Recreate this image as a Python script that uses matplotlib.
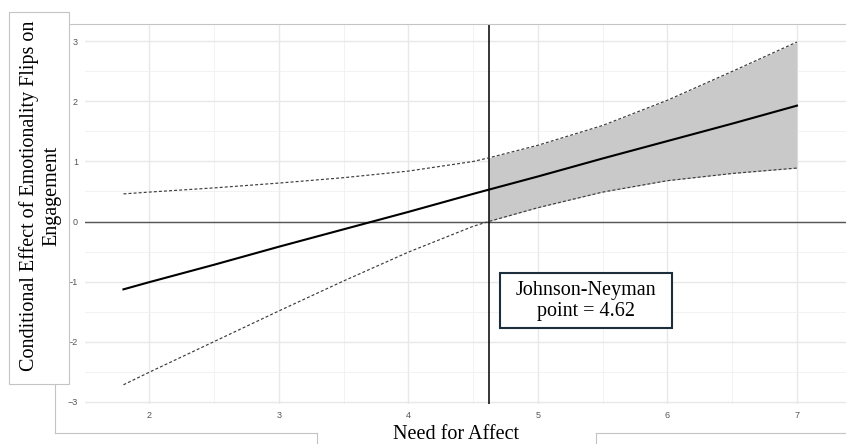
import numpy as np
import matplotlib
matplotlib.use("Agg")
import matplotlib.pyplot as plt
from matplotlib.lines import Line2D
from matplotlib.patches import Rectangle

# values
need_x = [1.8, 2.0, 2.5, 3.0, 3.5, 4.0, 4.5, 4.62, 5.0, 5.5, 6.0, 6.5, 7.0]
effect = [-1.13, -1.01, -0.72, -0.42, -0.13, 0.16, 0.46, 0.53, 0.75, 1.05, 1.34, 1.63, 1.93]
upper = [0.46, 0.49, 0.56, 0.64, 0.73, 0.84, 1.00, 1.06, 1.27, 1.60, 2.02, 2.50, 2.99]
lower = [-2.72, -2.51, -2.00, -1.49, -0.99, -0.51, -0.08, 0.00, 0.23, 0.49, 0.68, 0.80, 0.89]
jn_point = 4.62
x_ticks = [2, 3, 4, 5, 6, 7]
y_ticks = [-3, -2, -1, 0, 1, 2, 3]

W, H = 846, 444


def fx(px):
    return px / W


def fy(py):
    return 1 - py / H


fig = plt.figure(figsize=(W / 100, H / 100), dpi=100)
fig.patch.set_facecolor("white")

# panel placed in pixel terms
left, right, top, bottom = 85, 846, 24, 404
ax = fig.add_axes([fx(left), fy(bottom), fx(right - left), fy(top) - fy(bottom)])
ax.set_xlim(1.503, 7.379)
ax.set_ylim(-3.04, 3.29)
for s in ax.spines.values():
    s.set_visible(False)

ax.set_xticks(x_ticks)
ax.set_yticks(y_ticks)
ax.set_xticks(np.arange(2.5, 7, 1.0), minor=True)
ax.set_yticks(np.arange(-2.5, 3, 1.0), minor=True)
ax.grid(which="major", color="#e8e8e8", lw=1.0)
ax.grid(which="minor", color="#f0f0f0", lw=0.6)
ax.set_axisbelow(True)
ax.tick_params(which="both", length=0)
ax.tick_params(axis="x", pad=5, labelsize=6.5, labelcolor="#555555")
ax.tick_params(axis="y", pad=5, labelsize=6.5, labelcolor="#555555")
for lab in ax.get_xticklabels() + ax.get_yticklabels():
    lab.set_family("Liberation Sans")

nx = np.array(need_x)
sig = nx >= jn_point
ax.fill_between(nx[sig], np.array(lower)[sig], np.array(upper)[sig],
                color="#c9c9c9", lw=0, zorder=2)
ax.axhline(0, color="#555555", lw=1.0, zorder=3)
ax.axvline(jn_point, color="black", lw=1.1, zorder=3)
ax.plot(need_x, upper, color="#3c3c3c", lw=0.85, ls=(0, (2.5, 1.8)), zorder=4)
ax.plot(need_x, lower, color="#3c3c3c", lw=0.85, ls=(0, (2.5, 1.8)), zorder=4)
ax.plot(need_x, effect, color="black", lw=1.5, zorder=5)

# Johnson-Neyman annotation box
fig.patches.append(Rectangle((fx(500), fy(328)), fx(172), fy(273) - fy(328),
                             transform=fig.transFigure, facecolor="white",
                             edgecolor="#1c2e3c", lw=1.5, zorder=6))
fig.text(fx(586), fy(301), "Johnson-Neyman\npoint = 4.62", ha="center", va="center",
         family="Liberation Serif", fontsize=14.5, linespacing=1.2, zorder=7)

# frame pieces and label boxes
frame = "#c4c4c4"
segs = [
    [(69, 24), (846, 24)],
    [(55, 384), (55, 432.5)],
    [(55, 432.5), (317, 432.5)],
    [(317, 432.5), (317, 444)],
    [(596, 432.5), (596, 444)],
    [(596, 432.5), (846, 432.5)],
]
for (x0, y0), (x1, y1) in segs:
    fig.lines.append(Line2D([fx(x0), fx(x1)], [fy(y0), fy(y1)], transform=fig.transFigure,
                            color=frame, lw=0.8))

fig.patches.append(Rectangle((fx(9), fy(384)), fx(60), fy(12) - fy(384),
                             transform=fig.transFigure, facecolor="white",
                             edgecolor=frame, lw=0.8, zorder=6))
fig.text(fx(40), fy(196), "Conditional Effect of Emotionality Flips on\nEngagement",
         rotation=90, ha="center", va="center", multialignment="center",
         family="Liberation Serif", fontsize=14.5, linespacing=1.25, zorder=7)

fig.text(fx(456), fy(444), "Need for Affect", ha="center", va="bottom",
         family="Liberation Serif", fontsize=14.5)

fig.savefig("out.png", dpi=100, facecolor="white")
